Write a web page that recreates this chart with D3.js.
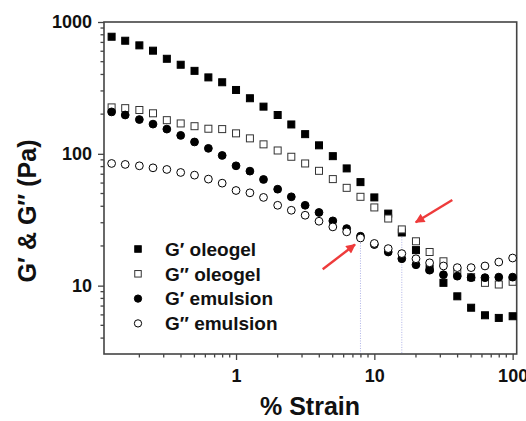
<!DOCTYPE html>
<html>
<head>
<meta charset="utf-8">
<script src="https://cdn.jsdelivr.net/npm/d3@7"></script>
<style>
  body { margin: 0; background: #fff; }
  text { font-family: Arial, "Liberation Sans", sans-serif; font-weight: bold; }
</style>
</head>
<body>
<div id="wrapper"></div>
<script>
// strain values (%), 10 points per decade
const strain = [0.126, 0.158, 0.2, 0.251, 0.316, 0.398, 0.501, 0.631, 0.794, 1,
    1.26, 1.58, 2, 2.51, 3.16, 3.98, 5.01, 6.31, 7.94, 10,
    12.6, 15.8, 20, 25.1, 31.6, 39.8, 50.1, 63.1, 79.4, 100];

const gpOleogel = [773, 721, 665, 606, 526, 474, 426, 380, 349, 305,
    264, 228, 197, 167, 141, 116, 96, 77.5, 61, 46.7,
    35.2, 25.3, 18.6, 13.5, 10.5, 8.3, 6.8, 5.96, 5.69, 5.86];
const gppOleogel = [225, 222, 215, 203, 180, 170, 162, 155, 154, 143,
    131, 118, 106, 95, 84.5, 74.3, 64.3, 55.2, 47.2, 39.2,
    32.3, 26.7, 21.7, 18.0, 15.3, 12.8, 11.6, 10.5, 10.2, 10.7];
const gpEmulsion = [208, 197, 182, 168, 154, 138, 123, 110, 97.2, 81.1,
    73.9, 63.9, 53.9, 47.2, 40.7, 35.9, 31.0, 27.1, 23.7, 20.5,
    18.0, 16.0, 14.4, 13.1, 12.1, 11.8, 11.5, 11.5, 11.6, 11.6];
const gppEmulsion = [84.5, 83.1, 81.1, 78.3, 76.1, 72.2, 68.9, 64.3, 59.9, 52.7,
    50.6, 46.7, 40.7, 37.3, 34.2, 30.8, 27.9, 25.6, 23.0, 20.9,
    19.1, 17.5, 16.0, 14.9, 14.1, 13.7, 13.7, 14.1, 15.1, 16.2];

const seriesNames = ["G\u2032 oleogel", "G\u2033 oleogel", "G\u2032 emulsion", "G\u2033 emulsion"];
const xTickValues = [1, 10, 100];
const yTickValues = [10, 100, 1000];
// crossover strains marked with dotted lines
const crossovers = [{strain: 7.94, value: 23.0}, {strain: 15.8, value: 26.7}];

const width = 526, height = 421;
const margin = {top: 22, right: 9.3, bottom: 67, left: 104};

const svg = d3.select("#wrapper")
    .append("svg")
    .attr("width", width)
    .attr("height", height);

const x = d3.scaleLog()
    .domain([0.111, 107])
    .range([margin.left, width - margin.right]);
const y = d3.scaleLog()
    .domain([3.03, 1000])
    .range([height - margin.bottom, margin.top]);

const series = [
    {name: seriesNames[0], values: gpOleogel, shape: "square", fill: "#000"},
    {name: seriesNames[1], values: gppOleogel, shape: "square", fill: "#fff"},
    {name: seriesNames[2], values: gpEmulsion, shape: "circle", fill: "#000"},
    {name: seriesNames[3], values: gppEmulsion, shape: "circle", fill: "#fff"}
];

// minor ticks 2..9 per decade
const xMinor = [], yMinor = [];
[0.1, 1, 10].forEach(b => { for (let k = 2; k <= 9; k++) { const v = b * k; if (v >= x.domain()[0] && v <= x.domain()[1]) xMinor.push(v); } });
[1, 10, 100].forEach(b => { for (let k = 2; k <= 9; k++) { const v = b * k; if (v >= y.domain()[0] && v <= y.domain()[1]) yMinor.push(v); } });

const axisColor = "#444";

// dotted crossover lines
svg.append("g")
    .selectAll("line")
    .data(crossovers)
    .enter()
    .append("line")
    .attr("x1", d => x(d.strain))
    .attr("x2", d => x(d.strain))
    .attr("y1", d => y(d.value))
    .attr("y2", y.range()[0])
    .attr("stroke", "#9aa0e0")
    .attr("stroke-width", 0.8)
    .attr("stroke-dasharray", "1,1.5");

// bottom axis
const xAxis = svg.append("g")
    .attr("transform", `translate(0,${y.range()[0]})`)
    .call(d3.axisBottom(x).tickValues(xTickValues).tickFormat(d3.format("d")).tickSize(6).tickSizeOuter(0));
xAxis.selectAll(".tick.minor")
    .data(xMinor)
    .enter()
    .append("line")
    .attr("class", "tick minor")
    .attr("x1", d => x(d))
    .attr("x2", d => x(d))
    .attr("y2", 3.5)
    .attr("stroke", axisColor);

// left axis
const yAxis = svg.append("g")
    .attr("transform", `translate(${x.range()[0]},0)`)
    .call(d3.axisLeft(y).tickValues(yTickValues).tickFormat(d3.format("d")).tickSize(6).tickSizeOuter(0));
yAxis.selectAll(".tick.minor")
    .data(yMinor)
    .enter()
    .append("line")
    .attr("class", "tick minor")
    .attr("y1", d => y(d))
    .attr("y2", d => y(d))
    .attr("x2", -3.5)
    .attr("stroke", axisColor);

[xAxis, yAxis].forEach(a => {
    a.select(".domain").remove();
    a.selectAll("line").attr("stroke", axisColor).attr("stroke-width", 1.3);
    a.selectAll("text").attr("fill", "#111").style("font-size", "18px");
});
xAxis.selectAll("text").attr("dy", "1.05em");
yAxis.selectAll("text").attr("x", -12);

// frame
svg.append("rect")
    .attr("x", x.range()[0])
    .attr("y", y.range()[1])
    .attr("width", x.range()[1] - x.range()[0])
    .attr("height", y.range()[0] - y.range()[1])
    .attr("fill", "none")
    .attr("stroke", axisColor)
    .attr("stroke-width", 1.6);

// markers
function drawMarker(sel, shape, fill, size) {
    if (shape === "square") {
        sel.append("rect")
            .attr("x", -size / 2).attr("y", -size / 2)
            .attr("width", size).attr("height", size)
            .attr("fill", fill)
            .attr("stroke", fill === "#000" ? "#000" : "#333")
            .attr("stroke-width", 1);
    } else {
        sel.append("circle")
            .attr("r", size / 2 + 0.4)
            .attr("fill", fill)
            .attr("stroke", "#000")
            .attr("stroke-width", 1);
    }
}

series.forEach(s => {
    svg.append("g")
        .selectAll("g")
        .data(s.values.map((v, i) => ({strain: strain[i], value: v})))
        .enter()
        .append("g")
        .attr("transform", d => `translate(${x(d.strain)},${y(d.value)})`)
        .each(function () { drawMarker(d3.select(this), s.shape, s.fill, 7); });
});

// legend
const legend = svg.append("g")
    .selectAll("g")
    .data(series)
    .enter()
    .append("g")
    .attr("transform", (d, i) => `translate(138,${249 + i * 24.8})`);
legend.each(function (d) { drawMarker(d3.select(this), d.shape, d.fill, 6.5); });
legend.append("text")
    .attr("x", 27)
    .attr("dy", "0.36em")
    .style("font-size", "19px")
    .attr("fill", "#111")
    .text(d => d.name);

// red arrows
svg.append("defs")
    .append("marker")
    .attr("id", "head")
    .attr("viewBox", "0 0 10 10")
    .attr("refX", 9)
    .attr("refY", 5)
    .attr("markerWidth", 5)
    .attr("markerHeight", 4)
    .attr("orient", "auto")
    .append("path")
    .attr("d", "M0,0L10,5L0,10Z")
    .attr("fill", "#ee3b3b");

const arrows = [
    {x1: 322.7, y1: 269.3, x2: 355, y2: 244.5},
    {x1: 452.3, y1: 200, x2: 415.7, y2: 222.3}
];
svg.append("g")
    .selectAll("line")
    .data(arrows)
    .enter()
    .append("line")
    .attr("x1", d => d.x1).attr("y1", d => d.y1)
    .attr("x2", d => d.x2).attr("y2", d => d.y2)
    .attr("stroke", "#ee3b3b")
    .attr("stroke-width", 2.4)
    .attr("marker-end", "url(#head)");

// axis titles
svg.append("text")
    .attr("x", 310)
    .attr("y", 415)
    .attr("text-anchor", "middle")
    .style("font-size", "25px")
    .attr("fill", "#111")
    .text("% Strain");

svg.append("text")
    .attr("transform", "translate(36,211) rotate(-90)")
    .attr("text-anchor", "middle")
    .style("font-size", "25px")
    .attr("fill", "#111")
    .text("G\u2032 & G\u2033 (Pa)");
</script>
</body>
</html>
